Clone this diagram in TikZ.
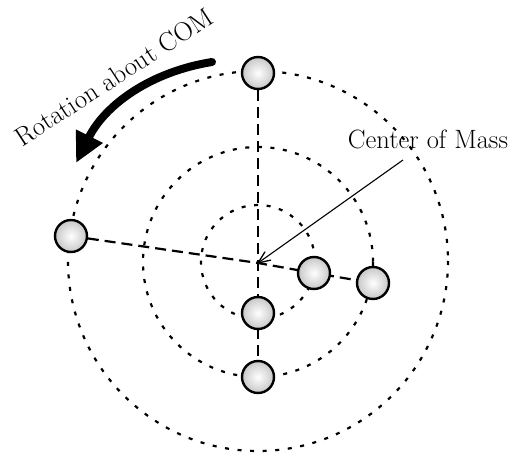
\documentclass[tikz,border=0pt]{standalone}
\usetikzlibrary{arrows.meta,calc}
\begin{document}
\begin{tikzpicture}[x=1pt,y=-1pt,
  orbit/.style={line width=2.2pt, dash pattern=on 4pt off 8.6pt},
  rod/.style={line width=2.2pt, dash pattern=on 11pt off 6pt},
  ball/.style={circle, minimum size=32pt, inner sep=0pt, line width=2.4pt, draw=black, inner color=white, outer color=black!22},
  lbl/.style={font=\fontsize{26.5}{31}\selectfont, inner sep=0pt}]
\useasboundingbox (0,0) rectangle (508,454);
\coordinate (com) at (258,263);
\draw[orbit] (258,262) circle[radius=57];
\draw[orbit] (258,262) circle[radius=115];
\draw[orbit] (258,261) circle[radius=190];
\coordinate (vt) at (258,73);
\coordinate (v1) at (258,313);
\coordinate (v2) at (258,377);
\coordinate (hl) at (71,236);
\coordinate (h1) at (314,273);
\coordinate (h2) at (373,283);
\draw[rod] (vt) -- (v2);
\draw[rod] (hl) -- (com) -- (h1) -- (h2);
\node[ball] (bvt) at (vt) {};
\node[ball] (bv1) at (v1) {};
\node[ball] (bv2) at (v2) {};
\node[ball] (bhl) at (hl) {};
\node[ball] (bh1) at (h1) {};
\node[ball] (bh2) at (h2) {};
\node[lbl] (cm) at (428,139) {Center of Mass};
\coordinate (cmstart) at (403,160);
\draw[line width=1.1pt] (cmstart) -- (com);
\draw[line width=1.3pt, line cap=round, line join=round] ($(com)!12pt!(cmstart)!5pt!90:(cmstart)$) -- (com) -- ($(com)!12pt!(cmstart)!5pt!-90:(cmstart)$);
\coordinate (rs) at (212,62);
\coordinate (re) at (76,163);
\draw[line width=8pt, line cap=round, -{Triangle[length=30pt,width=28pt]}] (rs) .. controls (150,72) and (105,105) .. (re);
\node[lbl, rotate=33] (rot) at (114,77) {Rotation about COM};
\end{tikzpicture}
\end{document}
